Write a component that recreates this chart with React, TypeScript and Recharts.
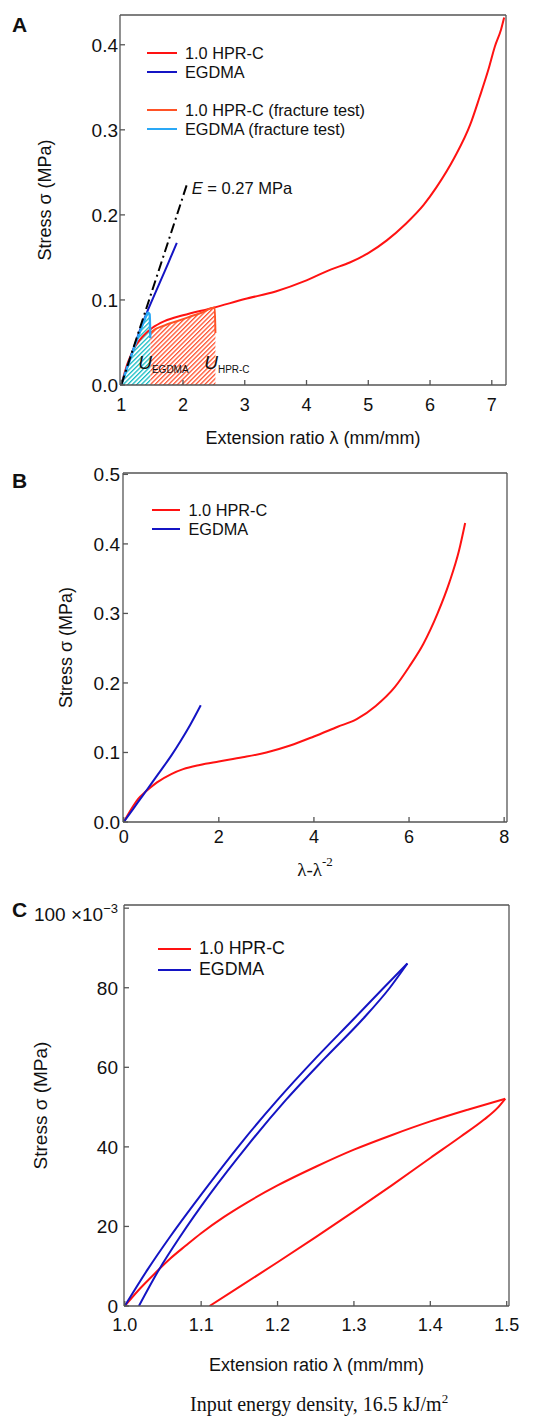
import React from 'react';
import { ComposedChart, Line, Area, XAxis, YAxis, ReferenceDot } from 'recharts';

type Pt = [number, number];

// ---- panel A: stress (MPa) vs extension ratio ----
const aHprc: Pt[] = [
  [1.0, 0], [1.05, 0.013], [1.1, 0.025], [1.15, 0.034], [1.2, 0.042], [1.3, 0.053],
  [1.4, 0.061], [1.5, 0.067], [1.7, 0.075], [2.0, 0.082], [2.5, 0.091], [3.0, 0.101],
  [3.5, 0.11], [4.0, 0.123], [4.4, 0.136], [4.7, 0.144], [5.0, 0.155], [5.3, 0.17],
  [5.6, 0.189], [5.9, 0.212], [6.1, 0.232], [6.4, 0.268], [6.65, 0.306], [6.8, 0.338],
  [6.95, 0.372], [7.05, 0.398], [7.15, 0.418], [7.2, 0.432],
];
const aEgdma: Pt[] = [
  [1.0, 0], [1.1, 0.022], [1.2, 0.043], [1.3, 0.064], [1.42, 0.086], [1.55, 0.108],
  [1.7, 0.133], [1.8, 0.15], [1.9, 0.167],
];
const aHprcFrac: Pt[] = [
  [1.47, 0.06], [1.5, 0.063], [1.7, 0.07], [1.9, 0.075], [2.1, 0.08], [2.3, 0.085],
  [2.515, 0.091], [2.525, 0.061],
];
const aEgdmaFrac: Pt[] = [
  [1.0, 0], [1.1, 0.021], [1.2, 0.042], [1.3, 0.062], [1.38, 0.077], [1.43, 0.085],
  [1.46, 0.083], [1.47, 0.055],
];
const aModulus: Pt[] = [[1.0, 0], [2.06, 0.235]];
const aXTicks = [1, 2, 3, 4, 5, 6, 7];
const aYTicks = [0, 0.1, 0.2, 0.3, 0.4];

// ---- panel B: stress vs (λ - λ^-2) ----
const bHprc: Pt[] = [
  [0, 0], [0.1, 0.012], [0.2, 0.023], [0.3, 0.033], [0.45, 0.043], [0.7, 0.057],
  [1.0, 0.069], [1.25, 0.076], [1.6, 0.082], [2.0, 0.087], [2.5, 0.093], [3.0, 0.1],
  [3.5, 0.11], [4.0, 0.123], [4.5, 0.137], [4.9, 0.148], [5.3, 0.167], [5.7, 0.194],
  [6.0, 0.223], [6.3, 0.256], [6.6, 0.3], [6.85, 0.345], [7.05, 0.39], [7.18, 0.43],
];
const bEgdma: Pt[] = [
  [0, 0], [0.2, 0.019], [0.4, 0.038], [0.6, 0.057], [0.8, 0.076], [1.0, 0.0955],
  [1.2, 0.117], [1.4, 0.14], [1.62, 0.168],
];
const bXTicks = [0, 2, 4, 6, 8];
const bYTicks = [0, 0.1, 0.2, 0.3, 0.4, 0.5];

// ---- panel C: loading / unloading, stress in 10^-3 MPa ----
const cHprcLoad: Pt[] = [
  [1.0, 0], [1.02, 4.4], [1.04, 8.3], [1.06, 12.0], [1.08, 15.2], [1.1, 18.3], [1.13, 22.4],
  [1.16, 26.0], [1.2, 30.3], [1.25, 35.0], [1.3, 39.3], [1.35, 43.0], [1.4, 46.4],
  [1.45, 49.4], [1.498, 52.1],
];
const cHprcUnload: Pt[] = [
  [1.111, 0], [1.15, 4.8], [1.2, 11.0], [1.25, 17.3], [1.3, 23.8], [1.35, 30.4],
  [1.4, 37.2], [1.44, 42.6], [1.47, 46.8], [1.488, 49.8], [1.498, 52.1],
];
const cEgdmaLoad: Pt[] = [
  [1.0, 0], [1.03, 9.2], [1.06, 17.6], [1.1, 28.0], [1.15, 40.4], [1.2, 51.8],
  [1.25, 62.3], [1.3, 72.2], [1.339, 80.0], [1.37, 86.1],
];
const cEgdmaUnload: Pt[] = [
  [1.0185, 0], [1.045, 9.2], [1.073, 17.6], [1.111, 28.0], [1.161, 40.4], [1.211, 51.8],
  [1.262, 62.3], [1.312, 72.2], [1.347, 80.0], [1.37, 86.1],
];
const cXTicks = [1.0, 1.1, 1.2, 1.3, 1.4, 1.5];
const cYTicks = [0, 20, 40, 60, 80, 100];

const RED = '#ff1212';
const BLUE = '#1414c4';
const ORANGE = '#ff5226';
const LIGHTBLUE = '#2aa8f6';
const FONT = '"Liberation Sans", Arial, Helvetica, sans-serif';
const SERIF = '"Liberation Serif", "Times New Roman", serif';
const AX = { stroke: '#555', strokeWidth: 1.3 };
const INK = '#111';

const xy = (p: Pt[]) => p.map(([x, y]) => ({ x, y }));

const leftTick = (fmt: (v: number) => string, size: number) => (p: any) => (
  <text x={p.x} y={p.y} dy="0.36em" textAnchor="end" fontSize={size} fontFamily={FONT} fill={INK}>
    {fmt(p.payload.value)}
  </text>
);

const bottomTick = (fmt: (v: number) => string, size: number) => (p: any) => (
  <text x={p.x} y={p.y} dy="0.72em" textAnchor="middle" fontSize={size} fontFamily={FONT} fill={INK}>
    {fmt(p.payload.value)}
  </text>
);

const cLeftTick = (p: any) => {
  const v = p.payload.value;
  if (v === 100) {
    return (
      <text x={p.x} y={p.y} dy="0.7em" textAnchor="end" fontSize={19} fontFamily={FONT} fill={INK}>
        <tspan>100 ×10</tspan>
        <tspan dy={-8} fontSize={13}>−3</tspan>
      </text>
    );
  }
  return (
    <text x={p.x} y={p.y} dy="0.36em" textAnchor="end" fontSize={19} fontFamily={FONT} fill={INK}>
      {v}
    </text>
  );
};

const xTitle = (content: React.ReactNode, dy: number, size = 18, family = FONT) => (p: any) => {
  const vb = p.viewBox;
  return (
    <text x={vb.x + vb.width / 2} y={vb.y + dy} textAnchor="middle" fontSize={size} fontFamily={family} fill={INK}>
      {content}
    </text>
  );
};

const yTitle = (text: string, dist: number, size = 18) => (p: any) => {
  const vb = p.viewBox;
  const cx = vb.x + vb.width - dist;
  const cy = vb.y + vb.height / 2;
  return (
    <text transform={`translate(${cx},${cy}) rotate(-90)`} textAnchor="middle" dy="0.35em" fontSize={size} fontFamily={FONT} fill={INK}>
      {text}
    </text>
  );
};

const note = (content: React.ReactNode, size: number) => (p: any) => (
  <text x={p.viewBox.x} y={p.viewBox.y} fontSize={size} fontFamily={FONT} fill={INK}>
    {content}
  </text>
);

function Key({ items, left, top, rowH, lineW, gap, size }: {
  items: { name: string; color: string }[]; left: number; top: number; rowH: number; lineW: number; gap: number; size: number;
}) {
  return (
    <div style={{ position: 'absolute', left, top, fontFamily: FONT, fontSize: size, color: INK, lineHeight: 1 }}>
      {items.map((it) => (
        <div key={it.name} style={{ display: 'flex', alignItems: 'center', height: rowH, whiteSpace: 'nowrap' }}>
          <span style={{ display: 'inline-block', width: lineW, height: 2, background: it.color, marginRight: gap }} />
          <span>{it.name}</span>
        </div>
      ))}
    </div>
  );
}

const letter = (ch: string, top: number) => (
  <div style={{ position: 'absolute', left: 12, top, fontFamily: FONT, fontWeight: 'bold', fontSize: 21, lineHeight: 1, color: INK }}>
    {ch}
  </div>
);

const smooth = { type: 'monotone' as const, dataKey: 'y', dot: false, activeDot: false, isAnimationActive: false, strokeWidth: 2 };

function PanelA() {
  return (
    <div style={{ position: 'absolute', left: 0, top: 0, width: 533, height: 460 }}>
      <ComposedChart width={533} height={460} margin={{ top: 14, right: 26, bottom: 35, left: 60 }}>
        <defs>
          <pattern id="hatchCyan" patternUnits="userSpaceOnUse" width="3.2" height="3.2" patternTransform="rotate(45)">
            <rect width="3.2" height="3.2" fill="#ffffff" />
            <line x1="0" y1="0" x2="0" y2="3.2" stroke="#18bcc4" strokeWidth="2.6" />
          </pattern>
          <pattern id="hatchOrange" patternUnits="userSpaceOnUse" width="3.2" height="3.2" patternTransform="rotate(45)">
            <rect width="3.2" height="3.2" fill="#ffffff" />
            <line x1="0" y1="0" x2="0" y2="3.2" stroke="#ff5230" strokeWidth="2.6" />
          </pattern>
        </defs>
        <XAxis dataKey="x" type="number" domain={[0.98, 7.23]} ticks={aXTicks} allowDataOverflow height={40}
          tickSize={-5} tickMargin={18} axisLine={AX} tickLine={AX} tick={bottomTick(String, 18)}
          label={xTitle('Extension ratio λ (mm/mm)', 59)} />
        <XAxis xAxisId="top" orientation="top" type="number" domain={[0.98, 7.23]} ticks={aXTicks} allowDataOverflow
          height={1} tickSize={-5} axisLine={AX} tickLine={AX} tick={false} />
        <YAxis type="number" domain={[0, 0.435]} ticks={aYTicks} allowDataOverflow width={60}
          tickSize={-5} tickMargin={7} axisLine={AX} tickLine={AX} tick={leftTick((v) => v.toFixed(1), 19)}
          label={yTitle('Stress σ (MPa)', 75)} />
        <YAxis yAxisId="right" orientation="right" type="number" domain={[0, 0.435]} ticks={aYTicks} allowDataOverflow
          width={1} tickSize={-5} axisLine={AX} tickLine={AX} tick={false} />
        <Area data={xy(aHprcFrac)} type="monotone" dataKey="y" stroke="none" fill="url(#hatchOrange)" fillOpacity={1}
          baseValue={0} isAnimationActive={false} dot={false} activeDot={false} />
        <Area data={xy(aEgdmaFrac)} type="monotone" dataKey="y" stroke="none" fill="url(#hatchCyan)" fillOpacity={1}
          baseValue={0} isAnimationActive={false} dot={false} activeDot={false} />
        <Line data={xy(aHprc)} stroke={RED} {...smooth} />
        <Line data={xy(aHprcFrac)} stroke={ORANGE} {...smooth} />
        <Line data={xy(aEgdma)} stroke={BLUE} {...smooth} />
        <Line data={xy(aEgdmaFrac)} stroke={LIGHTBLUE} {...smooth} strokeWidth={2.4} />
        <Line data={xy(aModulus)} stroke="#000" {...smooth} type="linear" strokeDasharray="10 4 2 4" />
        <ReferenceDot x={2.14} y={0.225} r={0} fill="none" stroke="none"
          label={note(<><tspan fontStyle="italic">E</tspan> = 0.27 MPa</>, 16.5)} />
        <ReferenceDot x={1.275} y={0.019} r={0} fill="none" stroke="none"
          label={note(<><tspan fontStyle="italic" fontSize={19}>U</tspan><tspan dy={4} fontSize={10}>EGDMA</tspan></>, 16)} />
        <ReferenceDot x={2.343} y={0.019} r={0} fill="none" stroke="none"
          label={note(<><tspan fontStyle="italic" fontSize={19}>U</tspan><tspan dy={4} fontSize={10}>HPR-C</tspan></>, 16)} />
      </ComposedChart>
    </div>
  );
}

function PanelB() {
  return (
    <div style={{ position: 'absolute', left: 0, top: 460, width: 533, height: 420 }}>
      <ComposedChart width={533} height={420} margin={{ top: 12, right: 25, bottom: 18, left: 60 }}>
        <XAxis dataKey="x" type="number" domain={[-0.015, 8.06]} ticks={bXTicks} allowDataOverflow height={40}
          tickSize={-5} tickMargin={13} axisLine={AX} tickLine={AX} tick={bottomTick(String, 18)}
          label={xTitle(<><tspan>λ-λ</tspan><tspan dy={-10} fontSize={13}>-2</tspan></>, 54, 19, SERIF)} />
        <XAxis xAxisId="top" orientation="top" type="number" domain={[-0.015, 8.06]} ticks={bXTicks} allowDataOverflow
          height={1} tickSize={-5} axisLine={AX} tickLine={AX} tick={false} />
        <YAxis type="number" domain={[0, 0.502]} ticks={bYTicks} allowDataOverflow width={63}
          tickSize={-5} tickMargin={8} axisLine={AX} tickLine={AX} tick={leftTick((v) => v.toFixed(1), 19)}
          label={yTitle('Stress σ  (MPa)', 57)} />
        <YAxis yAxisId="right" orientation="right" type="number" domain={[0, 0.502]} ticks={bYTicks} allowDataOverflow
          width={1} tickSize={-5} axisLine={AX} tickLine={AX} tick={false} />
        <Line data={xy(bHprc)} stroke={RED} {...smooth} />
        <Line data={xy(bEgdma)} stroke={BLUE} {...smooth} />
      </ComposedChart>
    </div>
  );
}

function PanelC() {
  return (
    <div style={{ position: 'absolute', left: 0, top: 880, width: 533, height: 500 }}>
      <ComposedChart width={533} height={500} margin={{ top: 24, right: 23, bottom: 34, left: 60 }}>
        <XAxis dataKey="x" type="number" domain={[0.999, 1.503]} ticks={cXTicks} allowDataOverflow height={40}
          tickSize={-5} tickMargin={17} axisLine={AX} tickLine={AX} tick={bottomTick((v) => v.toFixed(1), 18)}
          label={xTitle('Extension ratio λ (mm/mm)', 65)} />
        <XAxis xAxisId="top" orientation="top" type="number" domain={[0.999, 1.503]} ticks={cXTicks} allowDataOverflow
          height={1} tickSize={-5} axisLine={AX} tickLine={AX} tick={false} />
        <YAxis type="number" domain={[0, 100.8]} ticks={cYTicks} allowDataOverflow width={64}
          tickSize={-5} tickMargin={11} axisLine={AX} tickLine={AX} tick={cLeftTick}
          label={yTitle('Stress σ (MPa)', 84, 19)} />
        <YAxis yAxisId="right" orientation="right" type="number" domain={[0, 100.8]} ticks={cYTicks} allowDataOverflow
          width={1} tickSize={-5} axisLine={AX} tickLine={AX} tick={false} />
        <Line data={xy(cHprcLoad)} stroke={RED} {...smooth} />
        <Line data={xy(cHprcUnload)} stroke={RED} {...smooth} />
        <Line data={xy(cEgdmaLoad)} stroke={BLUE} {...smooth} />
        <Line data={xy(cEgdmaUnload)} stroke={BLUE} {...smooth} />
      </ComposedChart>
    </div>
  );
}

export default function App() {
  return (
    <div style={{ position: 'absolute', left: 0, top: 0, width: 533, height: 1416, background: '#fff' }}>
      <PanelA />
      <PanelB />
      <PanelC />
      {letter('A', 14)}
      {letter('B', 470)}
      {letter('C', 899)}
      <Key items={[{ name: '1.0 HPR-C', color: RED }, { name: 'EGDMA', color: BLUE }]}
        left={147} top={43.5} rowH={19} lineW={30} gap={8} size={16.3} />
      <Key items={[{ name: '1.0 HPR-C (fracture test)', color: ORANGE }, { name: 'EGDMA (fracture test)', color: LIGHTBLUE }]}
        left={147} top={100.5} rowH={19} lineW={30} gap={8} size={16.3} />
      <Key items={[{ name: '1.0 HPR-C', color: RED }, { name: 'EGDMA', color: BLUE }]}
        left={152} top={500.5} rowH={19} lineW={28} gap={8.5} size={16.3} />
      <Key items={[{ name: '1.0 HPR-C', color: RED }, { name: 'EGDMA', color: BLUE }]}
        left={158} top={938.5} rowH={21} lineW={33} gap={8} size={17.8} />
      <div style={{ position: 'absolute', left: 190, top: 1394, fontFamily: SERIF, fontSize: 20, lineHeight: 1, color: INK, whiteSpace: 'nowrap' }}>
        Input energy density, 16.5 kJ/m<sup style={{ fontSize: 13, lineHeight: 0 }}>2</sup>
      </div>
    </div>
  );
}
